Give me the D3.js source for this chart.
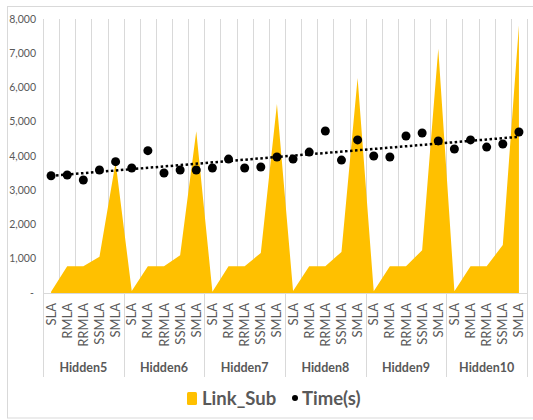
<!DOCTYPE html>
<html><head><meta charset="utf-8">
<script src="https://cdn.jsdelivr.net/npm/d3@7"></script>
<style>
html,body{margin:0;padding:0;background:#fff;}
svg{display:block;}
</style></head>
<body>
<svg id="chart" width="533" height="420"></svg>
<script>
const groups = ["Hidden5","Hidden6","Hidden7","Hidden8","Hidden9","Hidden10"];
const methods = ["SLA","RMLA","RRMLA","SSMLA","SMLA"];
const linkSub = [
  40, 780, 780, 1060, 3820,
  60, 780, 780, 1100, 4720,
  40, 780, 780, 1170, 5520,
  55, 780, 780, 1200, 6280,
  50, 780, 780, 1250, 7130,
  50, 780, 780, 1400, 7820
];
const timeS = [
  3425, 3445, 3300, 3590, 3835,
  3650, 4155, 3505, 3590, 3590,
  3650, 3910, 3650, 3680, 3970,
  3910, 4115, 4730, 3880, 4470,
  4000, 3970, 4585, 4670, 4440,
  4205, 4470, 4260, 4350, 4700
];
const yTicks = [0,1000,2000,3000,4000,5000,6000,7000,8000];

(function(){
const svg = d3.select("#chart");
const pL = 43, pR = 527, pT = 19, pB = 293;
const cats = d3.range(groups.length * methods.length);
const x = d3.scaleBand().domain(cats).range([pL, pR]).padding(0);
const cx = i => x(i) + x.bandwidth()/2;
const y = d3.scaleLinear().domain([0, 8000]).range([pB, pT]);

// outer border
svg.append("rect").attr("x",7.5).attr("y",6.5).attr("width",540).attr("height",411.5)
  .attr("fill","none").attr("stroke","#d9d9d9").attr("stroke-width",1);

// vertical gridlines at category boundaries
const bounds = cats.map(i => x(i)).concat([pR]);
svg.append("g").selectAll("line").data(bounds).join("line")
  .attr("x1", d => Math.round(d)+0.5).attr("x2", d => Math.round(d)+0.5)
  .attr("y1", pT).attr("y2", pB)
  .attr("stroke","#d9d9d9").attr("stroke-width",1);

// y axis labels
const fmt = d => d === 0 ? "-" : d3.format(",")(d);
svg.append("g").selectAll("text").data(yTicks).join("text")
  .attr("x", d => d === 0 ? 34 : 36).attr("y", d => y(d)).attr("dy","0.35em")
  .attr("text-anchor","end")
  .attr("font-family","'Liberation Sans Narrow', 'Arial Narrow', Lato, sans-serif")
  .attr("font-size",10.5).attr("fill","#595959")
  .text(fmt);

// area
const area = d3.area().x((d,i) => cx(i)).y0(y(0)).y1(d => y(d)).curve(d3.curveLinear);
svg.append("path").datum(linkSub).attr("d", area).attr("fill","#FFC000");

// axis line
svg.append("line").attr("x1",pL).attr("x2",pR).attr("y1",pB+0.5).attr("y2",pB+0.5)
  .attr("stroke","#d9d9d9");

// group separators
const gb = d3.range(groups.length+1).map(g => g < groups.length ? x(g*methods.length) : pR);
svg.append("g").selectAll("line").data(gb).join("line")
  .attr("x1", d => Math.round(d)+0.5).attr("x2", d => Math.round(d)+0.5)
  .attr("y1", pB).attr("y2", 377)
  .attr("stroke","#d9d9d9");

// category labels
svg.append("g").selectAll("text").data(cats).join("text")
  .attr("transform", i => `translate(${cx(i)+4.5},303) rotate(-90)`)
  .attr("text-anchor","end")
  .attr("font-family","Lato, sans-serif").attr("font-size",13).attr("fill","#595959")
  .text(i => methods[i % methods.length]);

// group labels
svg.append("g").selectAll("text").data(groups).join("text")
  .attr("x", (g,k) => (gb[k]+gb[k+1])/2).attr("y",368).attr("dy","0.35em")
  .attr("text-anchor","middle")
  .attr("font-family","Lato, sans-serif").attr("font-weight","bold").attr("font-size",12.5)
  .attr("fill","#595959").text(g => g);

// linear trendline of time
const n = timeS.length;
const xs = cats.map(i => i+1);
const mx = d3.mean(xs), my = d3.mean(timeS);
const slope = d3.sum(xs.map((v,k) => (v-mx)*(timeS[k]-my))) / d3.sum(xs.map(v => (v-mx)*(v-mx)));
const icpt = my - slope*mx;
svg.append("line")
  .attr("x1", cx(0)).attr("y1", y(icpt + slope*1))
  .attr("x2", cx(n-1)).attr("y2", y(icpt + slope*n))
  .attr("stroke","#000").attr("stroke-width",2.5).attr("stroke-dasharray","2.5,2.5");

// time dots
svg.append("g").selectAll("circle").data(timeS).join("circle")
  .attr("cx",(d,i) => cx(i)).attr("cy", d => y(d)).attr("r",4.5).attr("fill","#000");

// legend
const lg = svg.append("g");
lg.append("rect").attr("x",187).attr("y",392).attr("width",10).attr("height",13).attr("rx",1.5).attr("fill","#FFC000");
lg.append("text").attr("x",202).attr("y",398.5).attr("dy","0.35em")
  .attr("font-family","Lato, sans-serif").attr("font-weight","bold").attr("font-size",18.5)
  .attr("fill","#595959").text("Link_Sub");
lg.append("circle").attr("cx",295).attr("cy",398).attr("r",3).attr("fill","#000");
lg.append("text").attr("x",302).attr("y",398.5).attr("dy","0.35em")
  .attr("font-family","Lato, sans-serif").attr("font-weight","bold").attr("font-size",18.5)
  .attr("fill","#595959").text("Time(s)");
})();
</script>
</body></html>
